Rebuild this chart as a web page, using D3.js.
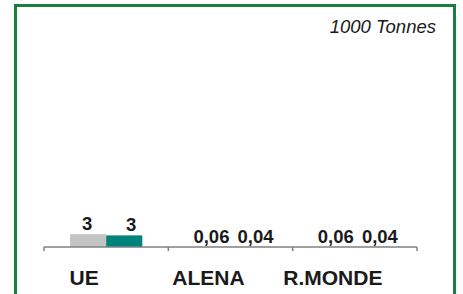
<!DOCTYPE html>
<html>
<head>
<meta charset="utf-8">
<script src="https://cdn.jsdelivr.net/npm/d3@7"></script>
<style>
  body { margin: 0; background: #fff; }
  svg { display: block; font-family: Arial, "Liberation Sans", sans-serif; }
</style>
</head>
<body>
<svg id="chart" width="463" height="294"></svg>
<script>
var categories = ["UE", "ALENA", "R.MONDE"];
var seriesNames = ["s1", "s2"];
var greyValues = [3.2, 0.06, 0.06];
var tealValues = [2.9, 0.04, 0.04];
var unitLabel = "1000 Tonnes";

var colors = { s1: "#c4c4c4", s2: "#00827c" };

var width = 463, height = 294;
var svg = d3.select("#chart");

// frame
svg.append("rect")
	.attr("x", 15.5)
	.attr("y", 5.5)
	.attr("width", 439)
	.attr("height", 300)
	.attr("fill", "none")
	.attr("stroke", "#17803d")
	.attr("stroke-width", 3);

var data = categories.map(function(c, i) {
	return { cat: c, s1: greyValues[i], s2: tealValues[i] };
});

var xScale = d3.scaleBand()
	.domain(categories)
	.range([44, 417])
	.padding(0);

var xSub = d3.scaleBand()
	.domain(seriesNames)
	.range([0, xScale.bandwidth()])
	.paddingInner(0)
	.paddingOuter(0.72);

var yScale = d3.scaleLinear()
	.domain([0, 50])
	.range([247, 47]);

var fmt = function(v) {
	return v >= 1 ? d3.format(".0f")(v) : d3.format(".2f")(v).replace(".", ",");
};

var groups = svg.selectAll(".grp")
	.data(data)
	.enter().append("g")
		.attr("class", "grp")
		.attr("transform", function(d) { return "translate(" + xScale(d.cat) + ",0)"; });

groups.selectAll("rect")
	.data(function(d) { return seriesNames.map(function(k) { return { key: k, value: d[k] }; }); })
	.enter().append("rect")
		.attr("x", function(d) { return xSub(d.key); })
		.attr("y", function(d) { return yScale(d.value); })
		.attr("width", xSub.bandwidth())
		.attr("height", function(d) { return yScale(0) - yScale(d.value); })
		.attr("fill", function(d) { return colors[d.key]; });

// labels sit a little apart, as in the original
groups.selectAll("text")
	.data(function(d) { return seriesNames.map(function(k) { return { key: k, value: d[k] }; }); })
	.enter().append("text")
		.attr("x", function(d) { return xSub(d.key) + xSub.bandwidth() / 2 + (d.key === "s1" ? -1 : 7); })
		.attr("y", function(d) { return yScale(d.value) - 4; })
		.attr("text-anchor", "middle")
		.attr("font-size", 18.5)
		.attr("font-weight", "bold")
		.attr("fill", "#1a1a1a")
		.text(function(d) { return fmt(d.value); });

// axis
var axis = svg.append("g")
	.attr("transform", "translate(0," + yScale(0) + ")");
axis.append("line")
	.attr("x1", 44).attr("x2", 417)
	.attr("stroke", "#808080").attr("stroke-width", 1.5);
axis.selectAll(".tick")
	.data(categories.concat(["end"]))
	.enter().append("line")
		.attr("x1", function(d, i) { return i < categories.length ? xScale(d) : xScale.range()[1]; })
		.attr("x2", function(d, i) { return i < categories.length ? xScale(d) : xScale.range()[1]; })
		.attr("y1", 0).attr("y2", 4)
		.attr("stroke", "#808080").attr("stroke-width", 1.5);

axis.selectAll(".lbl")
	.data(categories)
	.enter().append("text")
		.attr("x", function(d) { return xScale(d) + xScale.bandwidth() / 2 - 22; })
		.attr("y", 38)
		.attr("text-anchor", "middle")
		.attr("font-size", 21)
		.attr("font-weight", "bold")
		.attr("fill", "#1a1a1a")
		.text(function(d) { return d; });

svg.append("text")
	.attr("x", 436)
	.attr("y", 33)
	.attr("text-anchor", "end")
	.attr("font-size", 18.5)
	.attr("font-style", "italic")
	.attr("fill", "#1a1a1a")
	.text(unitLabel);
</script>
</body>
</html>
